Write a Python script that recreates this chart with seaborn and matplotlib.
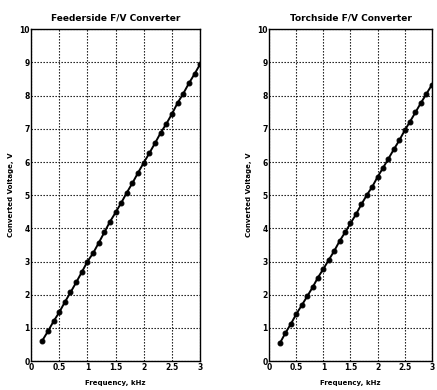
import matplotlib
matplotlib.use("Agg")
import matplotlib.pyplot as plt
import seaborn as sns
import pandas as pd

freq = [0.2, 0.3, 0.4, 0.5, 0.6, 0.7, 0.8, 0.9, 1.0, 1.1, 1.2, 1.3, 1.4, 1.5, 1.6,
        1.7, 1.8, 1.9, 2.0, 2.1, 2.2, 2.3, 2.4, 2.5, 2.6, 2.7, 2.8, 2.9, 3.0]
feederside = [0.62, 0.90, 1.20, 1.47, 1.78, 2.07, 2.37, 2.68, 3.00, 3.25, 3.56, 3.88,
              4.20, 4.48, 4.77, 5.08, 5.37, 5.68, 5.98, 6.27, 6.57, 6.88, 7.15, 7.45,
              7.78, 8.06, 8.37, 8.65, 8.95]
torchside = [0.55, 0.85, 1.12, 1.42, 1.68, 1.95, 2.22, 2.52, 2.78, 3.05, 3.32, 3.62,
             3.88, 4.15, 4.42, 4.72, 5.00, 5.25, 5.55, 5.82, 6.10, 6.38, 6.65, 6.95,
             7.22, 7.50, 7.78, 8.05, 8.32]
titles = ["Feederside F/V Converter", "Torchside F/V Converter"]
xticks = [0, 0.5, 1, 1.5, 2, 2.5, 3]
xticklabels = ["0", "0.5", "1", "1.5", "2", "2.5", "3"]
yticks = list(range(0, 11))

sns.set_style("white")
plt.rcParams['font.family'] = ['DejaVu Sans']
plt.rcParams['text.color'] = 'black'
plt.rcParams['axes.labelcolor'] = 'black'
plt.rcParams['xtick.color'] = 'black'
plt.rcParams['ytick.color'] = 'black'

fig = plt.figure(figsize=(4.37, 3.9), dpi=100)
positions = [[0.071, 0.074, 0.387, 0.851], [0.616, 0.074, 0.372, 0.851]]

for pos, vals, title in zip(positions, [feederside, torchside], titles):
    ax = fig.add_axes(pos)
    df = pd.DataFrame({"f": freq, "v": vals})
    sns.lineplot(data=df, x="f", y="v", ax=ax, color="black", marker="o",
                 markersize=3.5, linewidth=1.4, markeredgecolor="black")
    ax.set_xlim(0, 3)
    ax.set_ylim(0, 10)
    ax.set_xticks(xticks)
    ax.set_xticklabels(xticklabels, fontsize=5.5, fontweight="bold")
    ax.set_yticks(yticks)
    ax.set_yticklabels([str(t) for t in yticks], fontsize=5.5, fontweight="bold")
    ax.tick_params(axis="both", length=2, width=0.8, pad=1, direction="in")
    ax.grid(True, color="black", linestyle=(0, (1.2, 1.5)), linewidth=0.8)
    for s in ax.spines.values():
        s.set_color("black")
        s.set_linewidth(1.0)
    ax.set_title(title, fontsize=6.5, fontweight="bold", pad=6, color="black")
    ax.set_xlabel("Frequency, kHz", fontsize=5, fontweight="bold", labelpad=6)
    ax.set_ylabel("Converted Voltage, V", fontsize=5, fontweight="bold", labelpad=4)

fig.savefig("out.png", dpi=100)
